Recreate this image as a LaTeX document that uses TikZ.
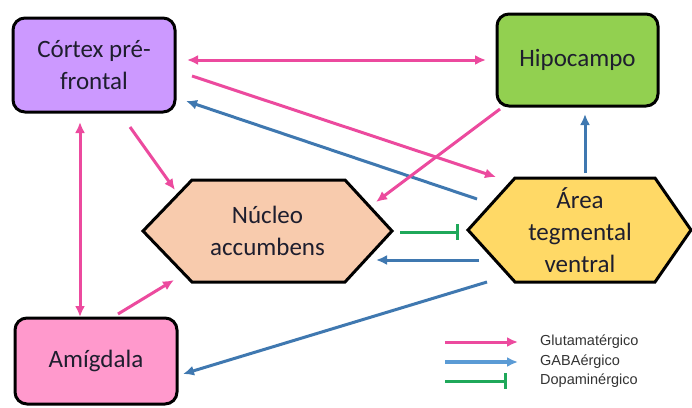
\documentclass[tikz,border=0pt]{standalone}
\usepackage{fontspec}
\setmainfont{Carlito}
\newfontfamily\legfont{Liberation Sans}
\usetikzlibrary{arrows.meta}
\definecolor{cpurple}{HTML}{CC99FF}
\definecolor{cgreen}{HTML}{92D050}
\definecolor{cpinkbox}{HTML}{FF99CC}
\definecolor{cpeach}{HTML}{F8CBAD}
\definecolor{cyellow}{HTML}{FFD966}
\definecolor{apink}{HTML}{EC4A9E}
\definecolor{ablue}{HTML}{3F78B0}
\definecolor{lblue}{HTML}{5B9BD5}
\definecolor{agreen}{HTML}{1FA85A}
\definecolor{txt}{HTML}{1E1E2E}
\tikzset{
  box/.style={draw=black, line width=3pt, rounded corners=12pt, align=center,
    font=\fontsize{25}{32}\selectfont, text=txt},
  hexa/.style={draw=black, line width=3pt, line join=miter},
  htext/.style={align=center, font=\fontsize{25}{32}\selectfont, text=txt},
  glu/.style={draw=apink, line width=3pt, -{Latex[length=11pt,width=10pt]}},
  glu2/.style={draw=apink, line width=3pt, {Latex[length=11pt,width=10pt]}-{Latex[length=11pt,width=10pt]}},
  gaba/.style={draw=ablue, line width=3pt, -{Latex[length=11pt,width=10pt]}},
  gabaleg/.style={draw=lblue, line width=3.4pt, -{Latex[length=11pt,width=10pt]}},
  dopa/.style={draw=agreen, line width=3pt, -{Bar[width=16pt,line width=3pt]}},
  legtext/.style={anchor=west, font=\legfont\fontsize{14.5}{16}\selectfont, text=black!80, inner sep=0pt},
}
\begin{document}
\begin{tikzpicture}[x=1pt,y=-1pt]
\useasboundingbox[fill=white] (0,0) rectangle (692,407);
% boxes
\node[box, fill=cpurple, minimum width=162pt, minimum height=94pt] (ctx) at (94,65) {Córtex pré-\\frontal};
\node[box, fill=cgreen, minimum width=161pt, minimum height=92pt] (hip) at (577.5,60) {Hipocampo};
\node[box, fill=cpinkbox, minimum width=162pt, minimum height=86pt] (amg) at (96,361) {Amígdala};
% hexagons
\draw[hexa, fill=cpeach] (143,231) -- (192,180) -- (345,180) -- (392,231) -- (345,282) -- (192,282) -- cycle;
\node[htext] (nac) at (267.5,231) {Núcleo\\accumbens};
\draw[hexa, fill=cyellow] (468,230) -- (515,178) -- (655,178) -- (691,230) -- (655,282) -- (515,282) -- cycle;
\node[htext] (atv) at (580,230) {Área\\tegmental\\ventral};
% endpoints
\coordinate (c1) at (187,60);   \coordinate (h1) at (486,60);
\coordinate (c2) at (192,76);   \coordinate (a2) at (496,177);
\coordinate (a3) at (477,199);  \coordinate (c3) at (186,101);
\coordinate (h4) at (500,109);  \coordinate (n4) at (376,202);
\coordinate (a5) at (585,173);  \coordinate (h5) at (585,114);
\coordinate (n6) at (400,232);  \coordinate (a6) at (459,232);
\coordinate (a7) at (479,260);  \coordinate (n7) at (376,260);
\coordinate (a8) at (487,282);  \coordinate (m8) at (183,374);
\coordinate (c9) at (80,122);   \coordinate (m9) at (80,317);
\coordinate (c10) at (130,127); \coordinate (n10) at (175,190);
\coordinate (m11) at (118,314); \coordinate (n11) at (174,280);
% connectors
\draw[glu2] (c1) -- (h1);
\draw[glu] (c2) -- (a2);
\draw[gaba] (a3) -- (c3);
\draw[glu] (h4) -- (n4);
\draw[gaba] (a5) -- (h5);
\draw[dopa] (n6) -- (a6);
\draw[gaba] (a7) -- (n7);
\draw[gaba] (a8) -- (m8);
\draw[glu2] (c9) -- (m9);
\draw[glu] (c10) -- (n10);
\draw[glu] (m11) -- (n11);
% legend
\coordinate (l1a) at (445,342); \coordinate (l1b) at (518,342);
\coordinate (l2a) at (445,362); \coordinate (l2b) at (518,362);
\coordinate (l3a) at (445,381); \coordinate (l3b) at (507,381);
\draw[glu] (l1a) -- (l1b);
\draw[gabaleg] (l2a) -- (l2b);
\draw[dopa] (l3a) -- (l3b);
\node[legtext] (t1) at (540,342) {Glutamatérgico};
\node[legtext] (t2) at (540,362) {GABAérgico};
\node[legtext] (t3) at (540,381) {Dopaminérgico};
\end{tikzpicture}
\end{document}
